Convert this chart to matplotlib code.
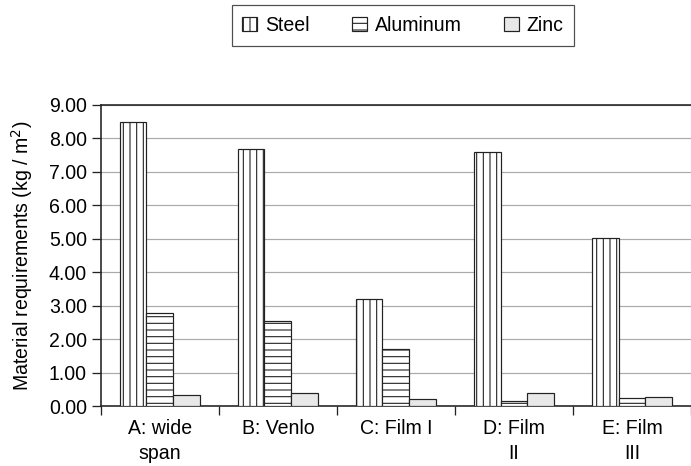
import numpy as np
import matplotlib
matplotlib.use('Agg')
import matplotlib.pyplot as plt
from matplotlib.patches import Patch

# dpi 80 so that the hatch cell (one inch) gives the sparse hatching of the original
DPI = 80
PX = 72.0 / DPI  # points per pixel

plt.rcParams['font.family'] = ['Liberation Sans', 'DejaVu Sans']
plt.rcParams['hatch.linewidth'] = 1.0 * PX * 1.1

# values
categories = ['A: wide\nspan', 'B: Venlo', 'C: Film I', 'D: Film\nII', 'E: Film\nIII']
steel = [8.50, 7.67, 3.20, 7.60, 5.02]
aluminum = [2.80, 2.54, 1.70, 0.15, 0.26]
zinc = [0.34, 0.40, 0.21, 0.40, 0.27]

fs = 19.5 * PX  # font size, about 19.5 px em

fig = plt.figure(figsize=(691 / DPI, 466 / DPI), dpi=DPI)
ax = fig.add_axes([0.146, 0.128, 0.854, 0.647])

x = np.arange(len(categories))
w = 0.228
lw = 1.2 * PX
ax.bar(x - w, steel, w, color='white', edgecolor='#222222', hatch='||', lw=lw, zorder=3)
ax.bar(x, aluminum, w, color='white', edgecolor='#222222', hatch='--', lw=lw, zorder=3)
ax.bar(x + w, zinc, w, color='#e8e8e8', edgecolor='#222222', lw=lw, zorder=3)

ax.set_ylim(0, 9)
ax.set_xlim(-0.5, 4.46)
ax.set_yticks(np.arange(0, 10, 1))
ax.set_yticklabels(['%.2f' % v for v in np.arange(0, 10, 1)])
ax.yaxis.grid(True, color='#aaaaaa', lw=1.2 * PX, zorder=0)

ax.set_xticks(x)
ax.set_xticklabels(categories, fontsize=fs, linespacing=1.35)
ax.set_xticks(np.arange(-0.5, 5, 1), minor=True)
ax.tick_params(axis='x', which='major', length=0, pad=13 * PX)
ax.tick_params(axis='x', which='minor', length=9 * PX, width=1.3 * PX, direction='out', color='#222222')
ax.tick_params(axis='y', length=9 * PX, width=1.3 * PX, direction='out', labelsize=fs,
               pad=5 * PX, color='#222222')

ax.spines['right'].set_visible(False)
for s in ['top', 'left', 'bottom']:
    ax.spines[s].set_linewidth(1.6 * PX)
    ax.spines[s].set_color('#222222')
ax.set_ylabel('Material requirements (kg / m$^2$)', fontsize=fs, labelpad=14 * PX)

handles = [Patch(facecolor='white', edgecolor='#222222', hatch='||', label='Steel', lw=lw),
           Patch(facecolor='white', edgecolor='#222222', hatch='--', label='Aluminum', lw=lw),
           Patch(facecolor='#e8e8e8', edgecolor='#222222', label='Zinc', lw=lw)]
leg = fig.legend(handles=handles, loc='center', bbox_to_anchor=(403 / 691, 1 - 25.5 / 466), ncol=3,
                 fontsize=fs, frameon=True, fancybox=False, edgecolor='#222222',
                 handlelength=0.75, handleheight=0.75, handletextpad=0.4,
                 columnspacing=2.2, borderpad=0.55, borderaxespad=0)
leg.get_frame().set_linewidth(1.2 * PX)

fig.savefig('out.png', dpi=DPI)
